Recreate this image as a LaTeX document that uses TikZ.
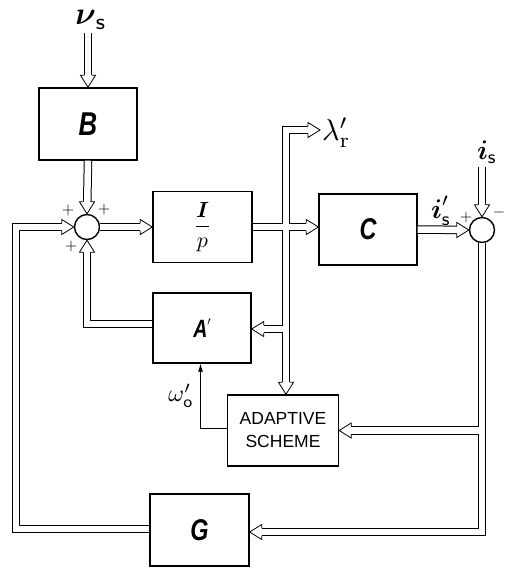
\documentclass[tikz,border=0pt]{standalone}
\usepackage{amsmath}
\usepackage{graphicx}
\usepackage{fontspec}
\newfontfamily\blkfont[FakeStretch=0.78]{Liberation Sans}
\newfontfamily\adfont{Liberation Sans}
\usetikzlibrary{arrows.meta,calc}
\tikzset{
  box/.style={draw, line width=1.4pt, inner sep=0pt},
  sumnode/.style={circle, draw, line width=1.4pt, minimum size=25pt, inner sep=0pt},
  pipeout/.style={draw=black, line width=8.5pt, line cap=butt, line join=miter},
  pipein/.style={draw=white, line width=6.5pt, line cap=butt, line join=miter},
  arr/.style={shorten >=12pt},
  hd/.pic={\draw[fill=white, line width=0.8pt, line join=miter] (-12,3.75) -- (-12,7.5) -- (0,0) -- (-12,-7.5) -- (-12,-3.75);},
  lbl/.style={inner sep=0pt, font=\fontsize{10}{12}\selectfont},
}
\newcommand\allpipes[1]{%
  \draw[#1,arr] (nuin) -- (B.north);
  \draw[#1,arr] (B.south) -- (s1.north);
  \draw[#1,arr] (s1.east) -- (Ip.west);
  \draw[#1,arr] (Ip.east) -- (Ip.east -| C.west);
  \draw[#1,arr] (jn) -- (jn |- lamtip) -- (lamtip);
  \draw[#1,arr] (jn) -- (jn |- adapt.north);
  \draw[#1,arr] ([yshift=-1pt]jn |- Ap.east) -- ([yshift=-1pt]Ap.east);
  \draw[#1,arr] ([yshift=4pt]Ap.west) -- ([yshift=4pt]Ap.west -| s1.south) -- (s1.south);
  \draw[#1,arr] (C.east) -- (s2.west);
  \draw[#1,arr] (isin) -- (s2.north);
  \draw[#1,arr] (s2.south) -- ([yshift=-2pt]s2.south |- G.east) -- ([yshift=-2pt]G.east);
  \draw[#1,arr] (s2.south |- adapt.east) -- (adapt.east);
  \draw[#1,arr] ([yshift=1pt]G.west) -- ([yshift=1pt]G.west -| fbx) -- (fbx |- s1.west) -- (s1.west);
}
\begin{document}
\begin{tikzpicture}[x=1pt,y=-1pt]
\useasboundingbox (0,0) rectangle (504,568);
% blocks
\node[box, minimum width=98pt, minimum height=72pt] (B) at (88,124)
  {\fontsize{33}{33}\selectfont\blkfont\bfseries\itshape B};
\node[sumnode] (s1) at (87,227) {};
\node[box, minimum width=99pt, minimum height=71pt] (Ip) at (202.5,227)
  {\fontsize{10}{12}\selectfont\scalebox{2.2}{$\displaystyle\frac{\boldsymbol{I}}{p}$}};
\node[box, minimum width=98pt, minimum height=70pt] (Ap) at (202,328)
  {\fontsize{25}{25}\selectfont\blkfont\bfseries\itshape A\/\raisebox{12pt}{\fontsize{10}{12}\selectfont\scalebox{1.2}{$\prime$}}};
\node[box, minimum width=98pt, minimum height=71pt] (C) at (368,229.5)
  {\fontsize{30}{30}\selectfont\blkfont\bfseries\itshape C};
\node[sumnode] (s2) at (482,230) {};
\node[box, minimum width=111pt, minimum height=71pt, align=center,
      font=\adfont\fontsize{17.5}{23}\selectfont] (adapt) at (283,430.5)
  {ADAPTIVE\\SCHEME};
\node[box, minimum width=99pt, minimum height=72pt] (G) at (199.5,530)
  {\fontsize{30}{30}\selectfont\blkfont\bfseries\itshape G};
% helper coordinates
\coordinate (nuin) at (88,33);
\coordinate (isin) at (482,167);
\coordinate (jn) at (286,227);
\coordinate (lamtip) at (320,130);
\coordinate (fbx) at (16,0);
% pipes: outline pass, then interior pass
\allpipes{pipeout}
\allpipes{pipein}
% hollow arrow heads
\pic[rotate=-90] at (B.north) {hd};
\pic[rotate=-90] at (s1.north) {hd};
\pic at (Ip.west) {hd};
\pic at (Ip.east -| C.west) {hd};
\pic at (lamtip) {hd};
\pic[rotate=-90] at (jn |- adapt.north) {hd};
\pic[rotate=180] at ([yshift=-1pt]Ap.east) {hd};
\pic[rotate=90] at (s1.south) {hd};
\pic at (s2.west) {hd};
\pic[rotate=-90] at (isin |- s2.north) {hd};
\pic[rotate=180] at ([yshift=-2pt]G.east) {hd};
\pic[rotate=180] at (adapt.east) {hd};
\pic at (s1.west) {hd};
% thin signal omega
\draw[line width=0.8pt, -{Latex[length=8pt,width=5pt]}]
  ([yshift=2.5pt]adapt.west) -| ([xshift=-1.5pt]Ap.south);
% labels
\node[lbl] (nu) at (91,20) {\scalebox{3.2}{$\boldsymbol{\nu}_{\textsf{s}}$}};
\node[lbl, anchor=west] (lam) at (322,133) {\scalebox{3}{$\lambda'_{\mathrm{r}}$}};
\node[lbl] (islbl) at (487,152) {\scalebox{2.7}{$\boldsymbol{i}_{\textsf{s}}$}};
\node[lbl] (isplbl) at (441,211) {\scalebox{2.7}{$\boldsymbol{i}'_{\textsf{s}}$}};
\node[lbl] (om) at (181,396) {\scalebox{2.4}{$\omega'_{\textsf{o}}$}};
\node[lbl] (p1) at (68,210) {\scalebox{1.6}{$+$}};
\node[lbl] (p2) at (104,209) {\scalebox{1.6}{$+$}};
\node[lbl] (p3) at (71,246) {\scalebox{1.6}{$+$}};
\node[lbl] (p4) at (466,217) {\scalebox{1.6}{$+$}};
\node[lbl] (m1) at (499,212) {\scalebox{1.6}{$-$}};
\end{tikzpicture}
\end{document}
